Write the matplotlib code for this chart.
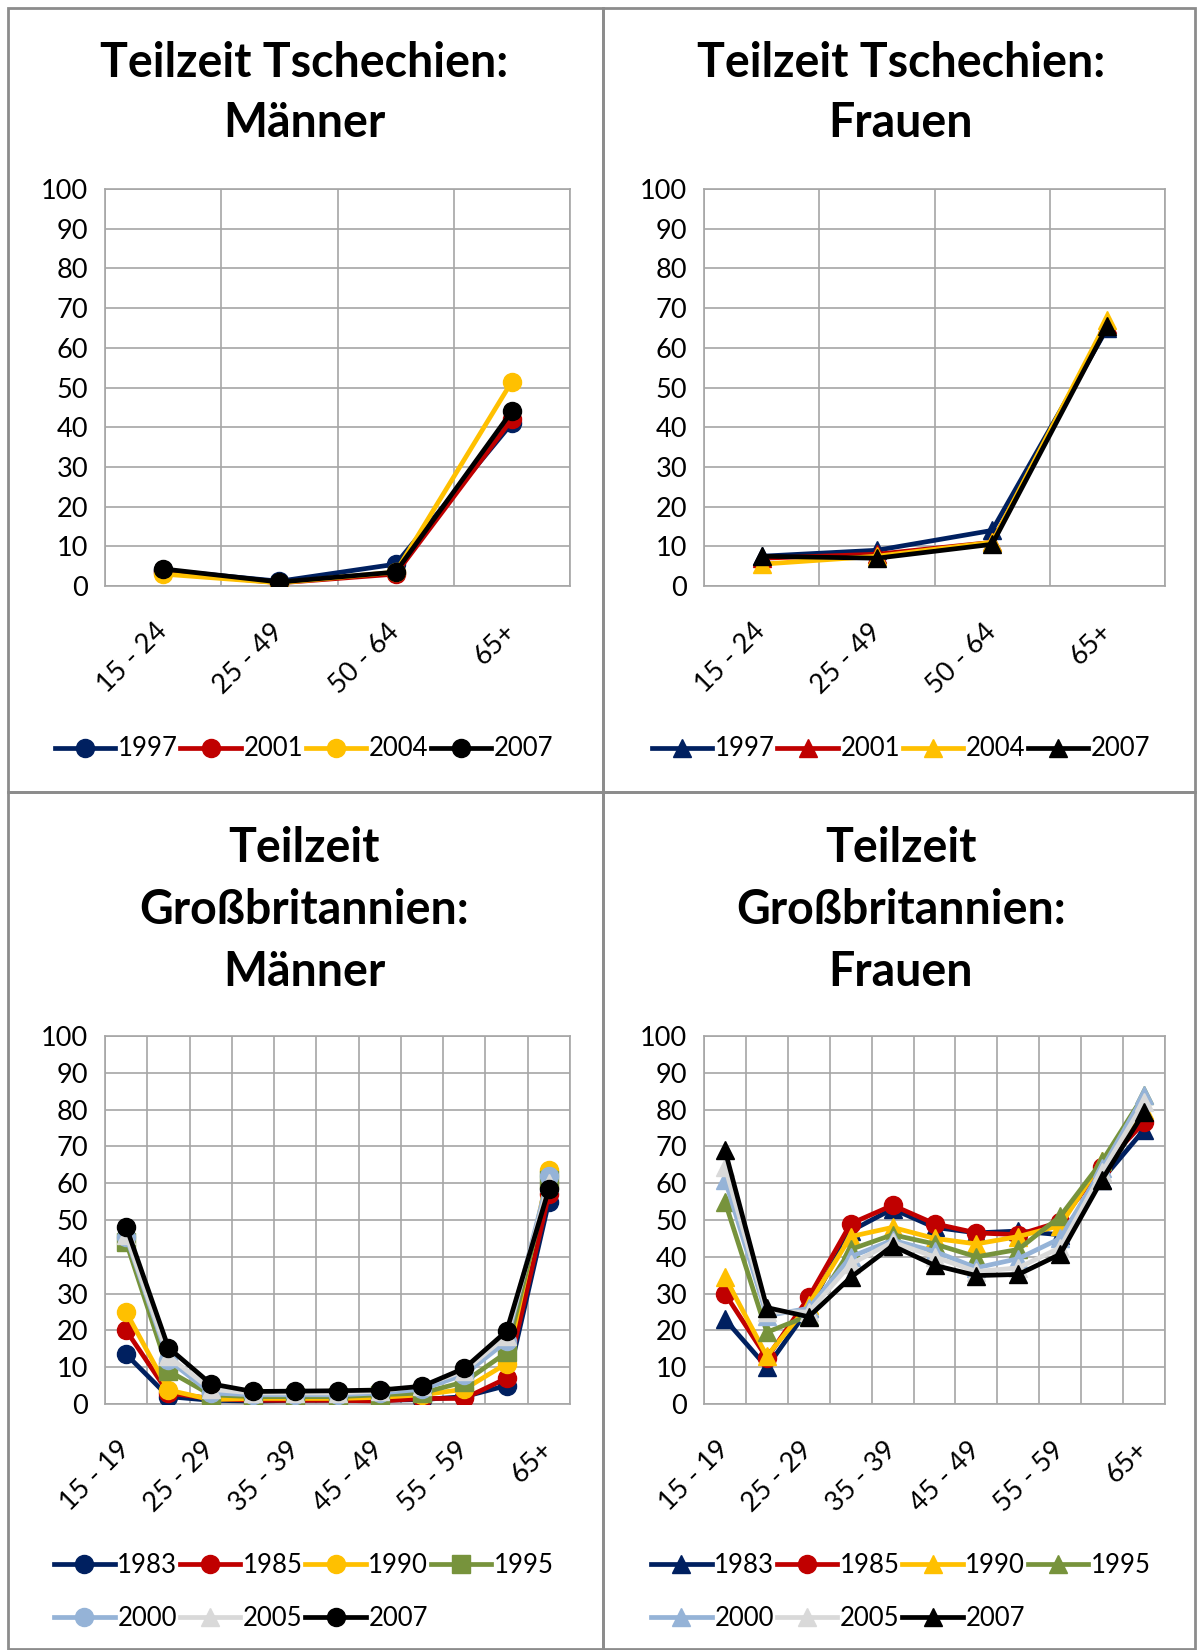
import numpy as np
import matplotlib
matplotlib.use("Agg")
import matplotlib.pyplot as plt
import matplotlib.transforms as mtransforms
from matplotlib.patches import Rectangle

plt.rcParams['font.family'] = ['Lato', 'DejaVu Sans']

# --- data ---
cz_groups = ['15 - 24', '25 - 49', '50 - 64', '65+']
cz_years = ['1997', '2001', '2004', '2007']
cz_men = [
    [4.0, 1.2, 5.5, 41.0],
    [3.5, 0.8, 3.0, 42.0],
    [3.0, 0.8, 3.5, 51.5],
    [4.3, 1.0, 3.5, 44.0],
]
cz_women = [
    [7.5, 9.0, 14.0, 65.0],
    [7.0, 8.0, 11.0, 66.0],
    [5.5, 7.5, 11.0, 67.0],
    [7.5, 7.0, 10.5, 65.5],
]

gb_groups = ['15 - 19', '20 - 24', '25 - 29', '30 - 34', '35 - 39', '40 - 44',
             '45 - 49', '50 - 54', '55 - 59', '60 - 64', '65+']
gb_years = ['1983', '1985', '1990', '1995', '2000', '2005', '2007']
gb_men = [
    [13.5, 2.0, 1.0, 0.8, 1.0, 1.0, 1.0, 1.2, 2.0, 5.0, 55.0],
    [20.0, 3.0, 1.5, 1.0, 1.0, 1.0, 0.8, 1.5, 1.5, 7.0, 57.0],
    [25.0, 3.8, 1.2, 1.5, 1.5, 1.5, 1.8, 2.5, 4.0, 11.0, 63.5],
    [44.0, 9.0, 2.5, 2.0, 2.0, 2.0, 2.5, 3.0, 6.0, 14.0, 61.0],
    [45.5, 12.0, 3.0, 2.5, 2.5, 2.5, 3.0, 4.0, 8.0, 17.0, 62.0],
    [46.0, 13.0, 4.0, 3.0, 3.0, 3.0, 3.5, 5.0, 9.0, 18.5, 60.0],
    [48.2, 15.3, 5.5, 3.4, 3.5, 3.6, 3.8, 4.8, 9.7, 19.8, 58.4],
]
gb_women = [
    [23.0, 10.0, 26.0, 47.0, 53.0, 48.0, 46.5, 47.0, 46.0, 61.0, 74.5],
    [30.0, 12.5, 29.0, 49.0, 54.0, 49.0, 46.5, 46.0, 49.5, 64.5, 76.5],
    [34.5, 13.0, 27.0, 45.5, 48.0, 45.0, 43.5, 45.5, 48.5, 66.0, 80.0],
    [55.0, 19.5, 24.0, 42.0, 46.0, 43.5, 40.0, 42.0, 51.0, 66.0, 84.0],
    [61.0, 24.0, 26.0, 40.0, 44.5, 41.5, 37.0, 39.5, 45.0, 64.0, 84.0],
    [64.5, 25.0, 25.0, 38.0, 44.0, 40.0, 36.0, 37.0, 42.5, 63.0, 82.0],
    [69.0, 26.2, 23.7, 34.4, 43.0, 37.7, 34.9, 35.2, 40.7, 61.0, 79.3],
]

cz_colors = ['#002060', '#C00000', '#FFC000', '#000000']
gb_colors = ['#002060', '#C00000', '#FFC000', '#77933C', '#95B3D7', '#D9D9D9', '#000000']
gb_men_markers = ['o', 'o', 'o', 's', 'o', '^', 'o']
gb_women_markers = ['^', 'o', '^', '^', '^', '^', '^']

W, H = 1197, 1650
fig = plt.figure(figsize=(W / 100, H / 100), dpi=100)
fig.patch.set_facecolor('white')

# panel frames
frame_col = '#8C8C8C'
for (x0, y0, x1, y1) in [(8, 8, 603, 792), (603, 8, 1195, 792),
                         (8, 792, 603, 1649), (603, 792, 1195, 1649)]:
    fig.patches.append(Rectangle((x0 / W, 1 - y1 / H), (x1 - x0) / W, (y1 - y0) / H,
                                 transform=fig.transFigure, fill=False,
                                 edgecolor=frame_col, linewidth=2))


def make_panel(rect, title, title_y, cx, groups, tick_idx, years, values, colors,
               markers, leg_y, leg_space):
    ax = fig.add_axes([rect[0] / W, 1 - rect[3] / H, (rect[2] - rect[0]) / W,
                       (rect[3] - rect[1]) / H])
    x = np.arange(len(groups))
    for i, yr in enumerate(years):
        ax.plot(x, values[i], color=colors[i], marker=markers[i], lw=3.4,
                markersize=13, label=yr, zorder=3 + i)
    ax.set_xlim(-0.5, len(groups) - 0.5)
    ax.set_ylim(0, 100)
    ax.set_yticks(np.arange(0, 101, 10))
    ax.set_xticks(np.arange(len(groups) + 1) - 0.5, minor=True)
    ax.set_xticks(tick_idx)
    ax.set_xticklabels([groups[i] for i in tick_idx], rotation=45, ha='right',
                       va='center', rotation_mode='anchor')
    shift = mtransforms.ScaledTranslation(6 / 100, 0, fig.dpi_scale_trans)
    for lab in ax.get_xticklabels():
        lab.set_transform(lab.get_transform() + shift)
    ax.tick_params(axis='x', which='both', length=0, pad=30, labelsize=19.5)
    ax.tick_params(axis='y', length=0, pad=12, labelsize=19.5)
    ax.grid(True, which='minor', axis='x', color='#A6A6A6', lw=1.2)
    ax.grid(True, which='major', axis='y', color='#A6A6A6', lw=1.2)
    for s in ax.spines.values():
        s.set_color('#A6A6A6')
        s.set_linewidth(1.2)
    ax.set_axisbelow(True)

    for k, line in enumerate(title):
        fig.text(cx / W, 1 - title_y[k] / H, line, ha='center', va='center',
                 fontsize=33.5, fontweight='bold')

    handles, labels = ax.get_legend_handles_labels()
    if len(handles) == 7:
        order = [0, 4, 1, 5, 2, 6, 3]
        handles = [handles[o] for o in order]
        labels = [labels[o] for o in order]
    ax.legend(handles, labels, loc='center', ncol=4, frameon=False,
              bbox_to_anchor=(cx / W, 1 - leg_y / H), bbox_transform=fig.transFigure,
              fontsize=18.5, handlelength=2.35, handletextpad=0.1, columnspacing=0.1,
              markerscale=1.0, labelspacing=leg_space)
    return ax


make_panel((105, 189, 570, 586), ['Teilzeit Tschechien:', 'Männer'], [63, 123], 304,
           cz_groups, [0, 1, 2, 3], cz_years, cz_men, cz_colors, ['o'] * 4, 749, 0.5)
make_panel((704, 189, 1165, 586), ['Teilzeit Tschechien:', 'Frauen'], [63, 123], 901,
           cz_groups, [0, 1, 2, 3], cz_years, cz_women, cz_colors, ['^'] * 4, 749, 0.5)
make_panel((105, 1036, 570, 1404), ['Teilzeit', 'Großbritannien:', 'Männer'],
           [848, 910, 972], 304, gb_groups, [0, 2, 4, 6, 8, 10], gb_years, gb_men,
           gb_colors, gb_men_markers, 1592, 1.1)
make_panel((704, 1036, 1165, 1404), ['Teilzeit', 'Großbritannien:', 'Frauen'],
           [848, 910, 972], 901, gb_groups, [0, 2, 4, 6, 8, 10], gb_years, gb_women,
           gb_colors, gb_women_markers, 1592, 1.1)

plt.savefig('out.png', dpi=100, facecolor='white')
